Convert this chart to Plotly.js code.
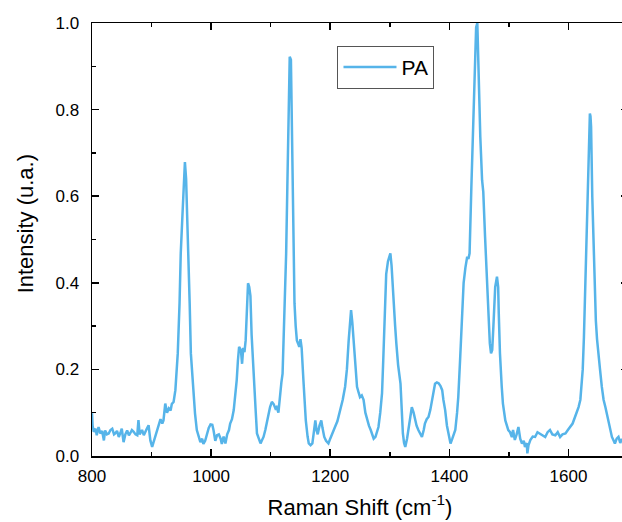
<!DOCTYPE html>
<html>
<head>
<meta charset="utf-8">
<script src="https://cdn.plot.ly/plotly-3.0.1.min.js"></script>
<style>
html,body{margin:0;padding:0;overflow:hidden;background:#fff;}
#chart{width:630px;height:522px;}
</style>
</head>
<body>
<div id="chart"></div>
<script>
// Raman shift (cm^-1)
const ramanShift = [
800,801,803,806,808,811,814,817,820,822,825,828,831,834,837,839,842,845,848,850,
853,856,859,862,864,867,870,873,876,878,880,881,884,887,890,892,895,898,901,904,
906,909,912,915,918,920,923,926,929,932,934,937,940,942,944,947,949,952,954,956,
958,959,960,962,964,966,968,970,973,976,979,982,985,987,990,993,996,999,1002,1004,
1007,1010,1013,1016,1018,1021,1024,1027,1030,1032,1035,1038,1040,1043,1045,1047,1050,1052,1054,1056,
1058,1060,1062,1064,1066,1068,1070,1073,1075,1077,1080,1083,1085,1088,1091,1094,1097,1099,1102,1105,
1108,1110,1113,1116,1118,1120,1123,1126,1128,1130,1132,1134,1135,1136,1137,1138,1140,1142,1144,1146,
1148,1150,1152,1155,1157,1159,1162,1164,1167,1170,1172,1175,1177,1179,1182,1185,1187,1190,1193,1197,
1200,1203,1206,1208,1212,1217,1221,1225,1228,1231,1233,1235,1237,1238,1240,1242,1245,1248,1250,1253,
1256,1259,1262,1265,1268,1270,1273,1276,1279,1281,1284,1287,1289,1291,1294,1297,1299,1301,1303,1306,
1309,1311,1314,1318,1320,1322,1324,1326,1329,1332,1335,1337,1340,1343,1345,1348,1351,1354,1357,1359,
1362,1365,1368,1371,1374,1376,1379,1382,1385,1388,1390,1393,1396,1399,1402,1405,1408,1410,1413,1415,
1418,1421,1424,1427,1430,1432,1434,1437,1440,1442,1445,1447,1449,1452,1455,1457,1460,1463,1466,1468,
1470,1472,1474,1477,1480,1482,1483,1485,1488,1490,1494,1497,1499,1502,1505,1507,1510,1513,1516,1519,
1522,1525,1527,1530,1531,1533,1536,1540,1544,1548,1552,1556,1561,1565,1569,1573,1578,1582,1586,1590,
1595,1599,1603,1607,1611,1614,1617,1620,1622,1624,1626,1629,1632,1634,1636,1637,1638,1640,1642,1644,
1646,1648,1650,1653,1656,1659,1662,1665,1667,1670,1673,1676,1678,1681,1684,1687,1690
];
// Intensity (u.a.) of PA
const intensityPA = [
0.099,0.070,0.056,0.063,0.048,0.067,0.052,0.058,0.036,0.059,0.050,0.052,0.060,0.063,0.050,0.052,0.058,0.044,0.055,0.063,
0.032,0.050,0.059,0.048,0.052,0.060,0.056,0.050,0.048,0.083,0.050,0.052,0.060,0.048,0.055,0.063,0.071,0.036,0.021,0.035,
0.044,0.058,0.067,0.085,0.075,0.082,0.121,0.100,0.110,0.105,0.120,0.125,0.152,0.190,0.237,0.353,0.468,0.560,0.645,0.679,
0.640,0.600,0.550,0.468,0.353,0.237,0.190,0.160,0.098,0.060,0.045,0.032,0.040,0.028,0.035,0.050,0.065,0.073,0.072,0.060,
0.035,0.048,0.050,0.040,0.028,0.045,0.029,0.050,0.060,0.075,0.085,0.106,0.130,0.175,0.220,0.252,0.245,0.213,0.250,0.240,
0.267,0.330,0.399,0.390,0.370,0.280,0.220,0.160,0.100,0.052,0.040,0.029,0.035,0.044,0.060,0.082,0.100,0.113,0.125,0.120,
0.110,0.113,0.100,0.152,0.170,0.190,0.313,0.468,0.622,0.745,0.922,0.915,0.800,0.699,0.600,0.506,0.353,0.300,0.267,0.260,
0.252,0.270,0.250,0.175,0.120,0.082,0.045,0.029,0.025,0.029,0.050,0.082,0.060,0.050,0.070,0.082,0.065,0.044,0.035,0.029,
0.040,0.052,0.060,0.067,0.080,0.106,0.130,0.160,0.200,0.267,0.310,0.337,0.310,0.290,0.240,0.200,0.160,0.145,0.136,0.140,
0.130,0.100,0.082,0.070,0.060,0.052,0.040,0.044,0.060,0.067,0.100,0.145,0.220,0.298,0.420,0.450,0.460,0.468,0.440,0.353,
0.300,0.260,0.210,0.167,0.100,0.052,0.030,0.021,0.040,0.067,0.090,0.113,0.100,0.082,0.070,0.060,0.050,0.044,0.060,0.075,
0.085,0.090,0.106,0.130,0.160,0.167,0.170,0.168,0.162,0.152,0.130,0.106,0.070,0.044,0.029,0.040,0.055,0.060,0.100,0.136,
0.220,0.313,0.400,0.435,0.460,0.455,0.468,0.622,0.776,0.891,0.990,1.000,0.890,0.737,0.637,0.610,0.506,0.405,0.313,0.260,
0.237,0.245,0.300,0.390,0.414,0.390,0.330,0.237,0.160,0.121,0.082,0.070,0.060,0.055,0.044,0.060,0.037,0.050,0.067,0.040,
0.029,0.035,0.021,0.030,0.006,0.025,0.037,0.045,0.044,0.055,0.052,0.048,0.044,0.055,0.060,0.050,0.048,0.055,0.044,0.050,
0.052,0.060,0.067,0.075,0.090,0.100,0.113,0.130,0.160,0.200,0.275,0.430,0.583,0.699,0.791,0.785,0.760,0.600,0.500,0.430,
0.313,0.270,0.237,0.200,0.160,0.130,0.113,0.095,0.082,0.060,0.044,0.035,0.029,0.040,0.044,0.030,0.040
];
const seriesName = 'PA';
const xTickVals = [800, 1000, 1200, 1400, 1600];
const yTickVals = [0.0, 0.2, 0.4, 0.6, 0.8, 1.0];
const xTitle = 'Raman Shift (cm<sup>-1</sup>)';
const yTitle = 'Intensity (u.a.)';

const FONT = '"Liberation Sans", Arial, sans-serif';

const trace = {
  x: ramanShift,
  y: intensityPA,
  type: 'scatter',
  mode: 'lines',
  name: seriesName,
  line: {color: '#56B4E9', width: 2.5}
};

const axisCommon = {
  showline: true, linecolor: '#000', linewidth: 1.5, mirror: 'ticks',
  ticks: 'inside', ticklen: 7, tickwidth: 1.5, tickcolor: '#000',
  showgrid: false, zeroline: false,
  tickfont: {family: FONT, size: 17, color: '#000'}
};

const layout = {
  width: 630, height: 522,
  margin: {l: 92, r: 2, t: 23, b: 66},
  paper_bgcolor: '#fff', plot_bgcolor: '#fff',
  font: {family: FONT, color: '#000'},
  showlegend: true,
  legend: {
    x: 0.458, y: 0.947, xanchor: 'left', yanchor: 'top',
    bgcolor: '#fff', bordercolor: '#555', borderwidth: 1,
    font: {family: FONT, size: 21, color: '#000'},
    itemwidth: 53
  },
  xaxis: Object.assign({}, axisCommon, {
    range: [800, 1700], tickvals: xTickVals, ticktext: xTickVals.map(String),
    minor: {dtick: 100, tick0: 800, ticks: 'inside', ticklen: 4, tickwidth: 1.5, tickcolor: '#000'},
    ticklabelstandoff: 4,
    title: {text: xTitle, font: {family: FONT, size: 22, color: '#000'}, standoff: 14}
  }),
  yaxis: Object.assign({}, axisCommon, {
    range: [0, 1], tickvals: yTickVals, ticktext: yTickVals.map(v => v.toFixed(1)),
    minor: {dtick: 0.1, tick0: 0, ticks: 'inside', ticklen: 4, tickwidth: 1.5, tickcolor: '#000'},
    ticklabelstandoff: 8
  }),
  annotations: [{
    text: yTitle, xref: 'paper', yref: 'paper',
    x: -0.125, y: 0.535, xanchor: 'center', yanchor: 'middle',
    textangle: -90, showarrow: false,
    font: {family: FONT, size: 22, color: '#000'}
  }]
};

Plotly.newPlot('chart', [trace], layout, {staticPlot: true, displayModeBar: false});
</script>
</body>
</html>
